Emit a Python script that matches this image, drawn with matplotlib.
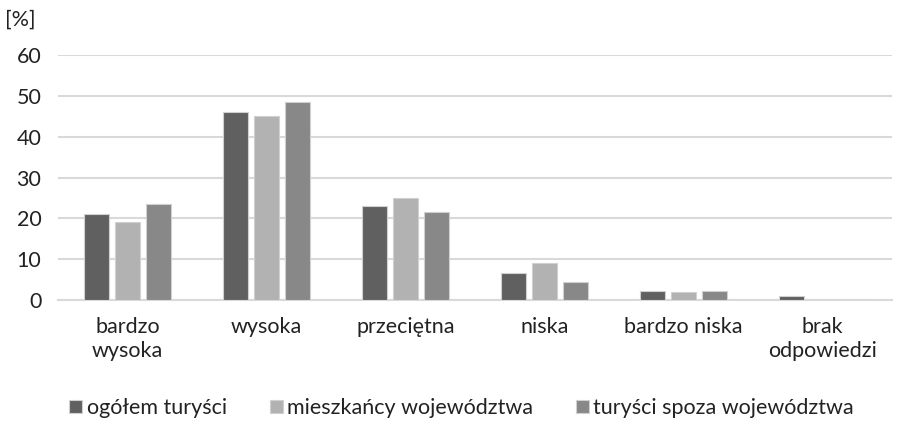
import matplotlib
matplotlib.use("Agg")
import matplotlib.pyplot as plt
import numpy as np

categories = ["bardzo\nwysoka", "wysoka", "przeciętna", "niska", "bardzo niska", "brak\nodpowiedzi"]
series_names = ["ogółem turyści", "mieszkańcy województwa", "turyści spoza województwa"]
ogolem = [21.0, 46.1, 23.0, 6.7, 2.1, 1.0]
mieszkancy = [19.0, 45.0, 24.9, 9.0, 2.0, 0.0]
spoza = [23.4, 48.4, 21.5, 4.5, 2.1, 0.0]
yticks = [0, 10, 20, 30, 40, 50, 60]

colors = ["#606060", "#b2b2b2", "#888888"]

plt.rcParams['font.family'] = ['Lato', 'DejaVu Sans']
fs = 15.5

fig = plt.figure(figsize=(9, 4.25), dpi=100)
ax = fig.add_axes([58/900, 125/425, 834/900, 245/425])

x = np.arange(len(categories))
w = 0.173
step = 0.223
for i, (vals, c, n) in enumerate(zip([ogolem, mieszkancy, spoza], colors, series_names)):
    ax.bar(x + (i - 1) * step, vals, width=w, color=c, edgecolor="#d0d0d0", linewidth=0.8, label=n, zorder=3)

ax.set_xlim(-0.5, len(categories) - 0.5)
ax.set_ylim(0, 60)
ax.set_yticks(yticks)
ax.set_yticklabels([str(t) for t in yticks], fontsize=fs, color="#222222")
ax.set_xticks(x)
ax.set_xticklabels(categories, fontsize=fs, color="#222222", linespacing=1.3)
ax.tick_params(axis='y', length=0, pad=12)
ax.tick_params(axis='x', length=0, pad=12)
ax.grid(axis='y', color="#d9d9d9", linewidth=1.5, zorder=0)
for s in ["top", "right", "left"]:
    ax.spines[s].set_visible(False)
ax.spines["bottom"].set_color("#d9d9d9")
ax.spines["bottom"].set_linewidth(1.5)

fig.text(5/900, 1 - 20/425, "[%]", fontsize=fs, color="#222222", va="center", ha="left")

fig.legend(loc="center", bbox_to_anchor=(0.513, 1 - 408/425), ncol=3, frameon=False,
           fontsize=fs, handlelength=0.6, handleheight=0.6, handletextpad=0.2,
           columnspacing=2.0, labelcolor="#222222")

fig.savefig("out.png", dpi=100)
